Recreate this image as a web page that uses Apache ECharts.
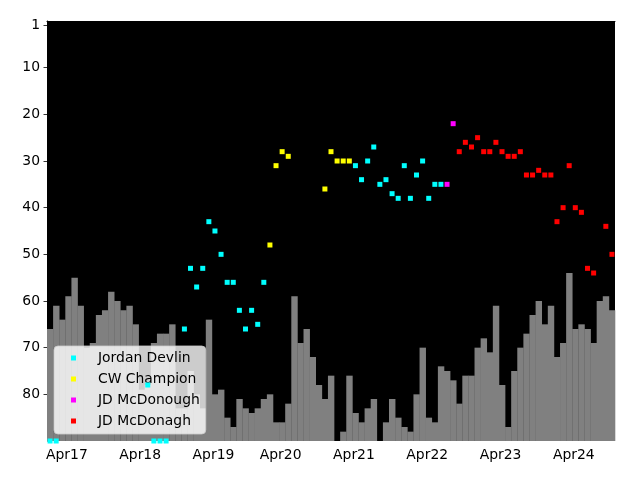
<!DOCTYPE html>
<html>
<head>
<meta charset="utf-8">
<script src="https://cdn.jsdelivr.net/npm/echarts@6/dist/echarts.min.js"></script>
<style>
html,body{margin:0;padding:0;background:#fff;}
#chart{width:640px;height:480px;}
</style>
</head>
<body>
<div id="chart"></div>
<script>
// Months shown on the x axis (one bar per month; 2019-12 absent in the source)
const categories = [
 '2017-01','2017-02','2017-03','2017-04','2017-05','2017-06','2017-07','2017-08','2017-09','2017-10','2017-11','2017-12',
 '2018-01','2018-02','2018-03','2018-04','2018-05','2018-06','2018-07','2018-08','2018-09','2018-10','2018-11','2018-12',
 '2019-01','2019-02','2019-03','2019-04','2019-05','2019-06','2019-07','2019-08','2019-09','2019-10','2019-11',
 '2020-01','2020-02','2020-03','2020-04','2020-05','2020-06','2020-07','2020-08','2020-09','2020-10','2020-11','2020-12',
 '2021-01','2021-02','2021-03','2021-04','2021-05','2021-06','2021-07','2021-08','2021-09','2021-10','2021-11','2021-12',
 '2022-01','2022-02','2022-03','2022-04','2022-05','2022-06','2022-07','2022-08','2022-09','2022-10','2022-11','2022-12',
 '2023-01','2023-02','2023-03','2023-04','2023-05','2023-06','2023-07','2023-08','2023-09','2023-10','2023-11','2023-12',
 '2024-01','2024-02','2024-03','2024-04','2024-05','2024-06','2024-07','2024-08','2024-09','2024-10'
];

// Gray background bars: rank value reached each month (bar drawn from bottom up to it)
const barRanks = [
 66,61,64,59,55,61,70,69,63,62,
 58,60,62,61,65,79,78,69,67,67,
 65,83,83,75,80,83,64,80,79,85,
 87,81,83,84,83,81,80,86,86,82,
 59,69,66,72,78,81,76,null,88,76,
 84,86,83,81,null,86,81,85,87,88,
 80,70,85,86,74,75,77,82,76,76,
 70,68,71,61,78,87,75,70,67,63,
 60,65,61,72,69,54,66,65,66,69,
 60,59,62
];

const jordanDevlin = [
 ['2017-01',90],['2017-02',90],['2018-05',78],['2018-06',90],['2018-07',90],['2018-08',90],
 ['2018-11',66],['2018-12',53],['2019-01',57],['2019-02',53],['2019-03',43],['2019-04',45],
 ['2019-05',50],['2019-06',56],['2019-07',56],['2019-08',62],['2019-09',66],['2019-10',62],
 ['2019-11',65],['2020-01',56],
 ['2021-04',31],['2021-05',34],['2021-06',30],['2021-07',27],['2021-08',35],['2021-09',34],
 ['2021-10',37],['2021-11',38],['2021-12',31],['2022-01',38],['2022-02',33],['2022-03',30],
 ['2022-04',38],['2022-05',35],['2022-06',35]
];
const cwChampion = [
 ['2020-02',48],['2020-03',31],['2020-04',28],['2020-05',29],
 ['2020-11',36],['2020-12',28],['2021-01',30],['2021-02',30],['2021-03',30]
];
const jdMcDonough = [
 ['2022-07',35],['2022-08',22]
];
const jdMcDonagh = [
 ['2022-09',28],['2022-10',26],['2022-11',27],['2022-12',25],['2023-01',28],['2023-02',28],
 ['2023-03',26],['2023-04',28],['2023-05',29],['2023-06',29],['2023-07',28],['2023-08',33],
 ['2023-09',33],['2023-10',32],['2023-11',33],['2023-12',33],['2024-01',43],['2024-02',40],
 ['2024-03',31],['2024-04',40],['2024-05',41],['2024-06',53],['2024-07',54],['2024-09',44],
 ['2024-10',50]
];

const yTicks = [1,10,20,30,40,50,60,70,80];
const xTickMonths = ['2017-04','2018-04','2019-04','2020-04','2021-04','2022-04','2023-04','2024-04'];
const xTickLabels = ['Apr17','Apr18','Apr19','Apr20','Apr21','Apr22','Apr23','Apr24'];

const Y_MIN = 0, Y_MAX = 90;
const FONT = 'DejaVu Sans';
const FS = 13.9;

const chart = echarts.init(document.getElementById('chart'), null, {renderer:'canvas'});

function scatterSeries(name, data, color){
  return {
    name: name, type: 'scatter', data: data,
    symbol: 'rect', symbolSize: 5,
    itemStyle: {color: color, opacity: 1},
    z: 6, animation: false, clip: false
  };
}

chart.setOption({
  animation: false,
  backgroundColor: '#ffffff',
  grid: {left: 47, right: 25, top: 21, bottom: 39, show: true, backgroundColor: '#000000', borderWidth: 0},
  xAxis: {
    type: 'category',
    data: categories,
    boundaryGap: true,
    axisLine: {show: true, lineStyle: {color: '#000', width: 1}},
    axisTick: {show: true, interval: 0, alignWithLabel: true, length: 3.5, lineStyle: {color: '#000', width: 0.8}},
    axisLabel: {
      interval: function(idx, val){ return xTickMonths.indexOf(val) >= 0; },
      formatter: function(val){ const k = xTickMonths.indexOf(val); return k >= 0 ? xTickLabels[k] : ''; },
      color: '#000', fontFamily: FONT, fontSize: FS, margin: 7, padding: [0, 3, 0, 0]
    },
    splitLine: {show: false}
  },
  yAxis: {
    type: 'value',
    inverse: true,
    min: Y_MIN, max: Y_MAX,
    axisLine: {show: true, lineStyle: {color: '#000', width: 1}},
    axisTick: {show: true, length: 3.5, customValues: yTicks, lineStyle: {color: '#000', width: 0.8}},
    axisLabel: {customValues: yTicks, color: '#000', fontFamily: FONT, fontSize: FS, margin: 7, padding: [2, 0, 0, 0]},
    splitLine: {show: false}
  },
  legend: {
    orient: 'vertical',
    left: 54, top: 346,
    padding: [4, 6, 5, 17],
    itemGap: 5,
    itemWidth: 5, itemHeight: 5,
    icon: 'rect',
    backgroundColor: 'rgba(255,255,255,0.8)',
    borderColor: 'rgba(204,204,204,0.8)',
    borderWidth: 1,
    borderRadius: 4,
    selectedMode: false,
    textStyle: {color: '#000', fontFamily: FONT, fontSize: FS, lineHeight: 16, padding: [0, 0, 0, 17]},
    data: ['Jordan Devlin', 'CW Champion', 'JD McDonough', 'JD McDonagh']
  },
  series: [
    {
      type: 'custom',
      name: 'bars',
      data: barRanks.map(function(r, i){ return [categories[i], r]; }),
      z: 2,
      renderItem: function(params, api){
        const v = api.value(1);
        if (v == null || isNaN(v)) return null;
        const top = api.coord([api.value(0), v]);
        const bottom = api.coord([api.value(0), Y_MAX]);
        const w = api.size([1, 0])[0];
        return {
          type: 'rect',
          shape: {x: top[0] - w / 2, y: top[1], width: w + 0.3, height: bottom[1] - top[1]},
          style: {fill: '#808080'}
        };
      }
    },
    scatterSeries('Jordan Devlin', jordanDevlin, '#00ffff'),
    scatterSeries('CW Champion', cwChampion, '#ffff00'),
    scatterSeries('JD McDonough', jdMcDonough, '#ff00ff'),
    scatterSeries('JD McDonagh', jdMcDonagh, '#ff0000')
  ]
});
</script>
</body>
</html>
